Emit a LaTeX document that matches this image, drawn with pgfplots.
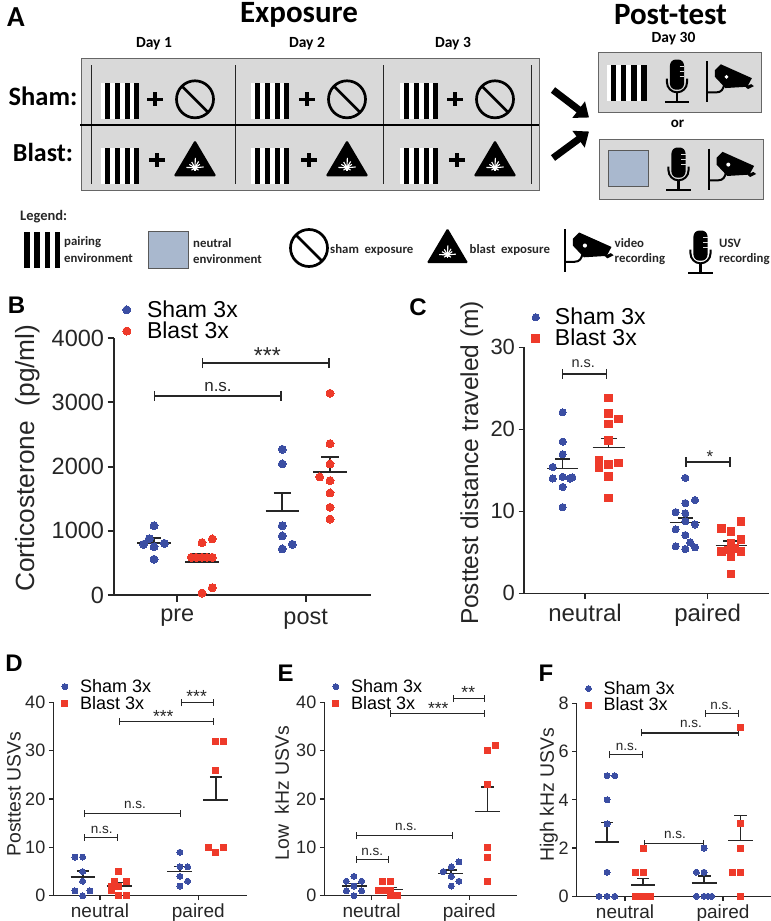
\documentclass[border=0pt]{standalone}
\usepackage{fontspec}
\setmainfont{Liberation Sans}
\newfontfamily\calfont{Carlito}
\usepackage{pgfplots}
\pgfplotsset{compat=1.18}
\usetikzlibrary{arrows.meta}
\definecolor{shamc}{HTML}{3B4EA3}
\definecolor{blastc}{HTML}{EE3A2A}
\definecolor{boxg}{HTML}{D9D9D9}
\definecolor{neut}{HTML}{A9B8CE}
\definecolor{ink}{HTML}{262626}
\newcommand\fs[1]{\fontsize{#1}{#1}\selectfont}
% schematic icons
\newcommand\stripes[4]{\begin{scope}[shift={(#1,#2)},x=#3pt,y=-#4pt]
 \fill[white] (0,0) rectangle (1,1);
 \foreach \s in {.11,.36,.62,.87}{\fill[black] (\s,0) rectangle (\s+.13,1);}
\end{scope}}
\newcommand\nosign[2]{\begin{scope}[shift={(#1,#2)}]
 \draw[black,line width=2.7pt] (0,0) circle[radius=18.5pt];
 \draw[black,line width=2.7pt] (-13,-13) -- (13,13);
\end{scope}}
\newcommand\plussign[2]{\begin{scope}[shift={(#1,#2)}]
 \draw[black,line width=3.6pt] (-8,0) -- (8,0) (0,-7) -- (0,7);
\end{scope}}
\newcommand\blastsign[3]{\begin{scope}[shift={(#1,#2)},x=#3pt,y=-#3pt]
 \fill[black,rounded corners=1.5pt] (0,0) -- (-65,110) -- (65,110) -- cycle;
 \foreach \a/\r in {5/26,35/18,60/22,88/30,120/20,150/20,178/26,215/13,270/11,325/13}
   {\draw[white,line width=1.1pt] (0,84) -- ++(-\a:\r);}
 \fill[white] (0,84) circle[radius=7];
\end{scope}}
\newcommand\mic[3]{\begin{scope}[shift={(#1,#2)},x=#3pt,y=-#3pt]
 \fill[black,rounded corners=6pt] (-21,0) rectangle (21,90);
 \foreach \yy in {22,37,52}{\draw[boxg,line width=1pt] (8,\yy) -- (21,\yy);}
 \draw[black,line width=2pt] (-30,57) -- (-30,68) arc[start angle=180,end angle=0,radius=30] -- (30,57);
 \draw[black,line width=2.2pt] (0,98) -- (0,128) (-36,128) -- (36,128);
\end{scope}}
\newcommand\cam[3]{\begin{scope}[shift={(#1,#2)},x=#3pt,y=-#3pt]
 \draw[black,line width=2.2pt] (7,0) -- (7,125);
 \draw[black,line width=2pt] (7,95) -- (35,95) .. controls (50,95) and (55,85) .. (58,72);
 \fill[black] (30,28) -- (48,10) -- (142,52) -- (128,78) -- (62,82) -- (30,48) -- cycle;
 \fill[white] (65,48) circle[radius=6];
 \fill[black] (122,78) -- (140,70) -- (148,76) -- (130,85) -- cycle;
\end{scope}}
% chart helpers
\newcommand\me[7]{%
 \addplot[forget plot,no marks,color=ink,line width=\mlw] coordinates {(#1,#6) (#2,#6)};
 \addplot[forget plot,no marks,color=ink,line width=\mlw] coordinates {(#5,#6) (#5,#7)};
 \addplot[forget plot,no marks,color=ink,line width=\mlw] coordinates {(#3,#7) (#4,#7)};}
\newcommand\br[6]{%
 \addplot[forget plot,no marks,color=ink,line width=\brlw,arrows={Bar[width=\brw]-Bar[width=\brw]}] coordinates {(#1,#3) (#2,#3)};
 \node[anchor=base,inner sep=0pt,text=ink,yshift=#6] at (axis cs:#4,#3) {#5};}
\pgfplotsset{
 pan/.style={scale only axis,clip=false,axis x line=bottom,axis y line=left,axis line style={-,line width=#1,color=ink},
  tick style={line width=#1,color=ink},tick align=outside,ymin=0,legend cell align=left,
  /pgf/number format/assume math mode=true,/pgf/number format/1000 sep={},
  scaled y ticks=false,
  legend image code/.code={\path (-5pt,0pt) (5pt,0pt); \draw[##1] plot coordinates {(0pt,0pt)};},
  x tick label style={text=ink},y tick label style={text=ink},
  xlabel style={text=ink},ylabel style={text=ink,anchor=center}},
 sham/.style={only marks,mark=*,color=shamc,mark options={draw=shamc,fill=shamc,line width=0pt}},
 blast/.style={only marks,mark=*,color=blastc,mark options={draw=blastc,fill=blastc,line width=0pt}},
 blasts/.style={only marks,mark=square*,color=blastc,mark options={draw=blastc,fill=blastc,line width=0pt}},
}
\begin{document}
\begin{tikzpicture}
\path[use as bounding box] (0,0) rectangle (771pt,-921pt);
\begin{scope}[x=1pt,y=-1pt]
 \node[font=\calfont\bfseries\fs{29},text=black] at (16,17) {A};
 \node[font=\calfont\bfseries\fs{31},text=black] at (299,15) {Exposure};
 \node[font=\calfont\bfseries\fs{31},text=black] at (670.5,15) {Post-test};
 \fill[boxg,draw=gray!80!black,line width=.8pt] (81,58) rectangle (539.5,190.7);
 \fill[boxg,draw=gray!80!black,line width=.8pt] (598,52) rectangle (761.5,112);
 \fill[boxg,draw=gray!80!black,line width=.8pt] (599,139) rectangle (763.5,199);
 \foreach \x in {91,235,383,531}{\draw[ink,line width=.8pt] (\x,65) -- (\x,184);}
 \draw[black,line width=2.2pt] (80,125) -- (539,125);
 \foreach \x/\t in {154/Day 1,307/Day 2,453/Day 3,673.5/Day 30}{\pgfmathsetmacro\yy{\x>600?39:44}\node[font=\calfont\bfseries\fs{15.5},text=black] at (\x,\yy) {\t};}
 \node[font=\calfont\bfseries\fs{26.5},text=black] at (43,96) {Sham:};
 \node[font=\calfont\bfseries\fs{26},text=black] at (43,152) {Blast:};
 \node[font=\calfont\bfseries\fs{15},text=black] at (677.5,124) {or};
 \foreach \a/\b/\c in {101/155/195,251/307/347,400/455/495}{
   \stripes{\a}{83}{38}{35.5}\plussign{\b}{99.3}\nosign{\c}{99.3}
   \pgfmathsetmacro\d{\b+2}
   \stripes{\a}{148}{38}{36}\plussign{\d}{160}\blastsign{\c}{140}{.33}}
 \stripes{607}{65}{39.5}{36}\mic{677}{59.5}{.335}\cam{705}{61}{.33}
 \fill[neut,draw=gray!70!black,line width=.8pt] (608,150) rectangle (648,186);
 \mic{678.5}{147.5}{.335}\cam{706.5}{148.5}{.335}
 \draw[black,line width=7pt,arrows={-Triangle[length=13pt,width=20pt]}] (553,90) -- (589,117.5);
 \draw[black,line width=7pt,arrows={-Triangle[length=13pt,width=20pt]}] (553,158) -- (589,131.5);
 \node[font=\calfont\bfseries\fs{14.5},text=ink,anchor=west,inner sep=0pt] at (20,217) {Legend:};
 \stripes{20}{232}{40}{36}
 \fill[neut,draw=gray!70!black,line width=.8pt] (148.5,231) rectangle (188,268);
 \nosign{309}{248}
 \blastsign{447.5}{228}{.32}
 \cam{562.5}{229}{.345}
 \mic{700.5}{230.5}{.335}
 \tikzset{lg/.style={font=\calfont\bfseries\fs{12.8},text=ink,anchor=west,inner sep=0pt}}
 \node[lg] at (64,242) {pairing};\node[lg] at (64,258) {environment};
 \node[lg] at (193,243) {neutral};\node[lg] at (193,259) {environment};
 \node[lg] at (330,250) {sham\ \ exposure};
 \node[lg] at (469.5,250) {blast\ \ exposure};
 \node[lg] at (614.5,243) {video};\node[lg] at (614.5,259) {recording};
 \node[lg] at (719,243) {USV};\node[lg] at (719,259) {recording};
 \tikzset{pl/.style={font=\bfseries\fs{24},text=black,inner sep=0pt}}
 \node[pl] at (16.5,305) {B};\node[pl] at (418,307.6) {C};\node[pl] at (14,663) {D};
 \node[pl] at (285.7,673) {E};\node[pl] at (546,673) {F};
\end{scope}
% ---- B
\def\mlw{1.9pt}\def\brlw{1.8pt}\def\brw{10pt}
\begin{axis}[pan=2pt,at={(114pt,-595pt)},anchor=south west,width=256.67pt,height=256.7pt,
 xmin=343,xmax=1113,ymax=4000,xtick={533,918},xticklabels={pre,post},ytick={0,1000,2000,3000,4000},
 major tick length=6.5pt,
 tick label style={font=\fs{23.5}},x tick label style={yshift=-4pt},
 ylabel={Corticosterone\ \ (pg/ml)},ylabel style={font=\fs{26.3},at={(axis description cs:-.335,.533)}},
 legend style={at={(axis description cs:.029,1.147)},anchor=north west,draw=none,fill=none,inner sep=0pt,font=\fs{23},row sep=3pt,column sep=15pt,nodes={inner sep=0pt}},
 legend entries={Sham 3x,Blast 3x}]
\addplot[sham,mark size=4pt] coordinates {(463,1080)(449,878)(432,790)(463,753)(494,805)(463,556)
 (848,2270)(848,2042)(848,1080)(848,920)(878,790)(848,717)};
\addplot[blast,mark size=4pt] coordinates {(607,816)(638,873)(575,587)(590,587)(607,587)(622,587)(638,587)(607,31)(638,114)
 (991,3143)(991,2359)(991,2042)(960,1839)(991,1782)(991,1590)(991,1366)(991,1184)};
\me{413}{513}{441}{485}{463}{816}{894}
\me{556}{657}{578}{632}{607}{520}{634}
\me{798}{898}{822}{874}{848}{1309}{1585}
\me{941}{1043}{965}{1018}{991}{1912}{2146}
\br{462}{846}{3107}{655}{\fs{17}n.s.}{4pt}
\br{606}{991}{3611}{803}{\fs{23}***}{0pt}
\end{axis}
% ---- C
\def\mlw{1.4pt}\def\brlw{1.3pt}\def\brw{10pt}
\begin{axis}[pan=1.5pt,at={(524pt,-593.3pt)},anchor=south west,width=245.3pt,height=246pt,
 xmin=372,xmax=1108,ymax=30,xtick={555,923},xticklabels={neutral,paired},ytick={0,10,20,30},
 major tick length=5.5pt,
 y tick label style={font=\fs{22}},x tick label style={font=\fs{24},yshift=-2pt},
 ylabel={Posttest distance traveled (m)},ylabel style={font=\fs{24.5},at={(axis description cs:-.213,.53)}},
 legend style={at={(axis description cs:.026,1.16)},anchor=north west,draw=none,fill=none,inner sep=0pt,font=\fs{23},row sep=3pt,column sep=14pt,nodes={inner sep=0pt}},
 legend entries={Sham 3x,Blast 3x}]
\addplot[sham,mark size=3.6pt] coordinates {(488,22.07)(488,18.5)(488,16.95)(458,15.4)(458,14)(488,14.2)(517,14.15)(510,14)(488,12.97)(488,10.5)
 (856,14.07)(885,11.38)(856,11)(827,9.9)(856,9.76)(827,7.8)(885,8.4)(856,8.8)(856,7.1)(871,6.2)(827,5.73)(856,5.4)(885,5.6)};
\addplot[blasts,mark size=3.8pt] coordinates {(626,23.8)(626,21.9)(655,21.26)(626,20.65)(626,18.66)(597,16.2)(597,15.3)(597,15.7)(626,15.7)(655,15.9)(626,14.27)(626,11.6)
 (1023,8.74)(964,7.93)(993,7.56)(1023,6.59)(993,6.1)(964,5.1)(985,5.3)(1005,5.5)(1023,5.1)(993,4.47)(993,2.36)};
\me{442}{533}{465}{510}{488}{15.24}{16.4}
\me{578}{674}{603}{650}{626}{17.76}{18.86}
\me{810}{901}{833}{878}{856}{8.6}{9.2}
\me{947}{1041}{970}{1017}{993}{5.8}{6.38}
\br{485}{621}{26.75}{550}{\fs{14.5}n.s.}{6pt}
\br{856}{992}{16}{930}{\fs{17}*}{0pt}
\end{axis}
% ---- D
\def\mlw{1.2pt}\def\brlw{1.1pt}\def\brw{7pt}
\begin{axis}[pan=1.2pt,at={(53.3pt,-895.7pt)},anchor=south west,width=194pt,height=193.3pt,
 xmin=160,xmax=742,ymax=40,xtick={300,595},xticklabels={neutral,paired},ytick={0,10,20,30,40},
 major tick length=4.5pt,
 y tick label style={font=\fs{18}},x tick label style={font=\fs{19}},
 ylabel={Posttest USVs},ylabel style={font=\fs{19.4},at={(axis description cs:-.2026,.526)}},
 legend style={at={(axis description cs:.032,1.12)},anchor=north west,draw=none,fill=none,inner sep=0pt,font=\fs{18},row sep=2pt,column sep=10pt,nodes={inner sep=0pt}},
 legend entries={Sham 3x,Blast 3x}]
\addplot[sham,mark size=3pt] coordinates {(225,8)(248,8)(248,5)(248,3)(225,1)(270,1)(248,0)
 (540,9)(540,6)(563,6)(540,4)(563,3)(540,2)};
\addplot[blasts,mark size=3pt] coordinates {(357,5)(345,3)(380,3)(334,1)(357,2)(334,2)(357,0)(380,0)
 (648,32)(671,32)(648,26)(625,10)(671,10)(648,9)};
\me{212}{286}{230}{268}{249}{3.86}{5.1}
\me{320}{395}{338}{375}{357}{2}{2.7}
\me{502}{576}{522}{558}{540}{5}{6.07}
\me{610}{685}{630}{667}{648}{19.8}{24.55}
\br{253}{353}{12.07}{305}{\fs{13.5}n.s.}{4pt}
\br{253}{543}{17}{405}{\fs{13.5}n.s.}{5pt}
\br{356}{641}{36}{490}{\fs{17.5}***}{-1pt}
\br{543}{641}{39.9}{590}{\fs{17.5}***}{0pt}
\end{axis}
% ---- E
\begin{axis}[pan=1.2pt,at={(324.3pt,-895.7pt)},anchor=south west,width=193pt,height=193.3pt,
 xmin=178,xmax=757,ymax=40,xtick={320,613},xticklabels={neutral,paired},ytick={0,10,20,30,40},
 major tick length=4.5pt,
 y tick label style={font=\fs{18}},x tick label style={font=\fs{19}},
 ylabel={Low\ \ kHz USVs},ylabel style={font=\fs{19.4},at={(axis description cs:-.219,.531)}},
 legend style={at={(axis description cs:.032,1.12)},anchor=north west,draw=none,fill=none,inner sep=0pt,font=\fs{18},row sep=2pt,column sep=10pt,nodes={inner sep=0pt}},
 legend entries={Sham 3x,Blast 3x}]
\addplot[sham,mark size=3pt] coordinates {(267,4)(290,3)(244,3)(267,2)(244,1)(290,1)(267,0)
 (582,7)(559,6)(535,5)(559,4)(582,3)(559,2)};
\addplot[blasts,mark size=3pt] coordinates {(352,3)(376,3)(352,1)(340,1)(376,1)(376,0)(398,0)(364,1)
 (691,31)(668,30)(668,23)(668,10)(668,8)(668,3)};
\me{231}{305}{249}{286}{267}{2}{2.5}
\me{340}{414}{358}{395}{376}{1.3}{1.7}
\me{520}{594}{540}{576}{558}{4.55}{5.3}
\me{630}{704}{649}{686}{668}{17.5}{22.5}
\br{273}{372}{7.5}{322}{\fs{13.5}n.s.}{4pt}
\br{273}{563}{12.4}{423}{\fs{13.5}n.s.}{5pt}
\br{375}{661}{37.7}{520}{\fs{17.5}***}{-1pt}
\br{563}{661}{40.8}{610}{\fs{17.5}**}{0pt}
\end{axis}
% ---- F
\begin{axis}[pan=1.2pt,at={(576.7pt,-896.3pt)},anchor=south west,width=194.3pt,height=193pt,
 xmin=170,xmax=753,ymax=8,xtick={315,609},xticklabels={neutral,paired},ytick={0,2,4,6,8},
 major tick length=4.5pt,
 y tick label style={font=\fs{18}},x tick label style={font=\fs{19}},
 ylabel={High kHz USVs},ylabel style={font=\fs{19.4},at={(axis description cs:-.143,.525)}},
 legend style={at={(axis description cs:.033,1.115)},anchor=north west,draw=none,fill=none,inner sep=0pt,font=\fs{18},row sep=2pt,column sep=10pt,nodes={inner sep=0pt}},
 legend entries={Sham 3x,Blast 3x}]
\addplot[sham,mark size=3pt] coordinates {(261,5)(284,5)(261,4)(261,3)(261,1)(237,0)(261,0)(284,0)
 (552,2)(529,1)(552,1)(529,0)(552,0)(564,0)(575,0)};
\addplot[blasts,mark size=3pt] coordinates {(369,2)(346,1)(369,1)(346,0)(357,0)(369,0)(381,0)(392,0)
 (661,7)(661,3)(661,2)(638,1)(661,1)(661,0)};
\me{225}{297}{243}{280}{261}{2.25}{3.05}
\me{334}{405}{352}{388}{369}{.47}{.75}
\me{515}{590}{534}{572}{552}{.55}{.84}
\me{624}{698}{642}{680}{661}{2.3}{3.35}
\br{268}{370}{5.86}{320}{\fs{13.5}n.s.}{4pt}
\br{373}{551}{2.18}{465}{\fs{13.5}n.s.}{5pt}
\br{362}{656}{6.77}{513}{\fs{13.5}n.s.}{5pt}
\br{554}{656}{7.58}{604}{\fs{13.5}n.s.}{4pt}
\end{axis}
\end{tikzpicture}
\end{document}
